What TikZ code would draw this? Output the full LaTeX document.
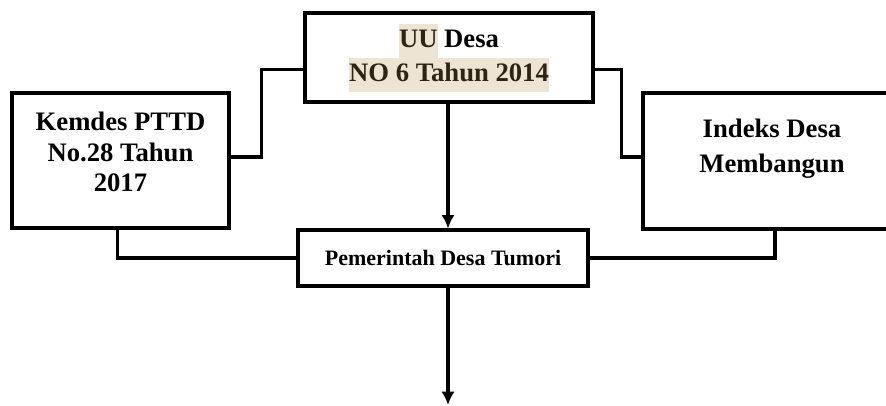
\documentclass[tikz,border=0pt]{standalone}
\usepackage{fontspec}
\setmainfont{Liberation Serif}
\usetikzlibrary{arrows.meta}
\definecolor{hlbg}{HTML}{EEE4D3}
\definecolor{hltext}{HTML}{2E2414}
\newcommand{\hl}[1]{{\setlength{\fboxsep}{0pt}\colorbox{hlbg}{\color{hltext}\strut #1}}}

\begin{document}
\begin{tikzpicture}[line cap=rect,line join=miter,x=0.75pt,y=-0.75pt,
	box/.style={draw, line width=2.4pt, inner sep=0pt, align=center},
	boxtext/.style={align=center, font=\bfseries\fontsize{20}{23}\selectfont},
	conn/.style={line width=2.4pt},
	arr/.style={line width=2.4pt, -{Latex[length=10pt,width=10pt]}}]
	\useasboundingbox (0,0) rectangle (886,405);
	\clip (0,0) rectangle (886,405);
	% Kotak atas
	\node[box, minimum width=216pt, minimum height=66.75pt,
	 font=\bfseries\fontsize{20}{25.5}\selectfont] (uu) at (449,57.5)
	 {\hl{UU} Desa\\\hl{NO 6 Tahun 2014}};
	% Kotak kiri
	\node[box, minimum width=162.75pt, minimum height=101.25pt] (kemdes) at (120.5,160.5) {};
	\node[boxtext] (kemdestxt) at (120.5,152) {Kemdes PTTD\\No.28 Tahun\\2017};
	% Kotak kanan
	\node[box, minimum width=193.5pt, minimum height=102pt] (idm) at (772,161) {};
	\node[boxtext, font=\bfseries\fontsize{20}{26}\selectfont] (idmtxt) at (772,149) {Indeks Desa\\Membangun};
	% Kotak tengah
	\node[box, minimum width=217.5pt, minimum height=42pt,
	 font=\bfseries\fontsize{16.5}{20}\selectfont] (pemdes) at (443,258) {Pemerintah Desa Tumori};
	% Penghubung
	\draw[conn] ([yshift=-9pt]uu.west) -- ++(-42,0) |- ([yshift=2.6pt]kemdes.east);
	\draw[conn] ([yshift=-9pt]uu.east) -- ++(27,0) |- ([yshift=3pt]idm.west);
	\draw[conn] ([xshift=-2pt]kemdes.south) |- (pemdes.west);
	\draw[conn] ([xshift=2.25pt]idm.south) |- (pemdes.east);
	% Panah
	\coordinate (out) at (448,405);
	\draw[arr] (uu.south -| out) -- (pemdes.north -| out);
	\draw[arr] (pemdes.south -| out) -- (out);
\end{tikzpicture}
\end{document}
